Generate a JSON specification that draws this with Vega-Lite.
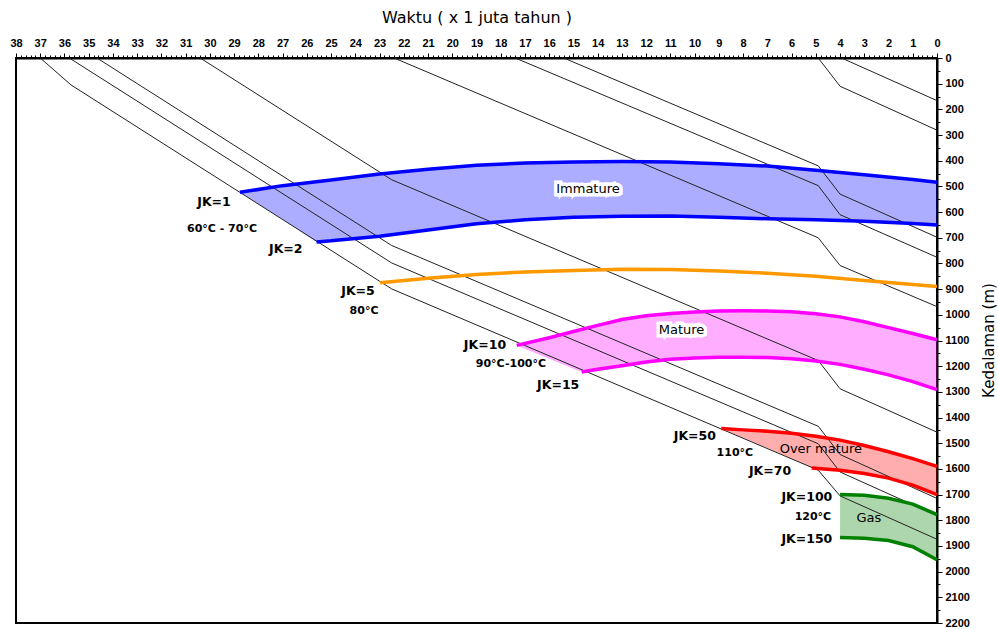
{
  "$schema": "https://vega.github.io/schema/vega-lite/v6.json",
  "width": 921,
  "height": 565,
  "autosize": {"type": "none"},
  "padding": {"left": 16, "top": 58, "right": 61, "bottom": 6},
  "background": "white",
  "config": {"view": {"stroke": "black", "strokeWidth": 2}, "axis": {"grid": false}},
  "datasets": {
    "bands": [
      {"band": "blue", "t": 28.76, "top": 523, "bot": 523},
      {"band": "blue", "t": 27, "top": 497, "bot": 629},
      {"band": "blue", "t": 25.6, "top": 482, "bot": 716},
      {"band": "blue", "t": 25, "top": 475, "bot": 712},
      {"band": "blue", "t": 23, "top": 452, "bot": 694},
      {"band": "blue", "t": 21, "top": 433, "bot": 670},
      {"band": "blue", "t": 19, "top": 418, "bot": 645},
      {"band": "blue", "t": 17, "top": 409, "bot": 630},
      {"band": "blue", "t": 15, "top": 405, "bot": 620},
      {"band": "blue", "t": 13, "top": 403, "bot": 616},
      {"band": "blue", "t": 11, "top": 405, "bot": 615},
      {"band": "blue", "t": 9, "top": 412, "bot": 620},
      {"band": "blue", "t": 7, "top": 421, "bot": 626},
      {"band": "blue", "t": 5, "top": 437, "bot": 630},
      {"band": "blue", "t": 3, "top": 455, "bot": 636},
      {"band": "blue", "t": 1, "top": 473, "bot": 644},
      {"band": "blue", "t": 0, "top": 484, "bot": 650},
      {"band": "magenta", "t": 17.34, "top": 1119, "bot": 1119},
      {"band": "magenta", "t": 16, "top": 1089, "bot": 1171},
      {"band": "magenta", "t": 15, "top": 1065, "bot": 1210},
      {"band": "magenta", "t": 14.66, "top": 1057, "bot": 1223},
      {"band": "magenta", "t": 14, "top": 1041, "bot": 1212},
      {"band": "magenta", "t": 13, "top": 1018, "bot": 1198},
      {"band": "magenta", "t": 12, "top": 1004, "bot": 1184},
      {"band": "magenta", "t": 11, "top": 995, "bot": 1173},
      {"band": "magenta", "t": 10, "top": 989, "bot": 1168},
      {"band": "magenta", "t": 9, "top": 985, "bot": 1165},
      {"band": "magenta", "t": 8, "top": 984, "bot": 1165},
      {"band": "magenta", "t": 7, "top": 985, "bot": 1166},
      {"band": "magenta", "t": 6, "top": 988, "bot": 1171},
      {"band": "magenta", "t": 5, "top": 996, "bot": 1180},
      {"band": "magenta", "t": 4, "top": 1008, "bot": 1193},
      {"band": "magenta", "t": 3, "top": 1027, "bot": 1212},
      {"band": "magenta", "t": 2, "top": 1050, "bot": 1234},
      {"band": "magenta", "t": 1, "top": 1073, "bot": 1260},
      {"band": "magenta", "t": 0, "top": 1097, "bot": 1291},
      {"band": "red", "t": 8.9, "top": 1443, "bot": 1443},
      {"band": "red", "t": 8, "top": 1448, "bot": 1479},
      {"band": "red", "t": 7, "top": 1453, "bot": 1519},
      {"band": "red", "t": 6, "top": 1461, "bot": 1559},
      {"band": "red", "t": 5.17, "top": 1471, "bot": 1596},
      {"band": "red", "t": 5, "top": 1473, "bot": 1597},
      {"band": "red", "t": 4, "top": 1488, "bot": 1605},
      {"band": "red", "t": 3, "top": 1509, "bot": 1618},
      {"band": "red", "t": 2, "top": 1533, "bot": 1636},
      {"band": "red", "t": 1, "top": 1560, "bot": 1663},
      {"band": "red", "t": 0, "top": 1590, "bot": 1700},
      {"band": "green", "t": 4, "top": 1700, "bot": 1867},
      {"band": "green", "t": 3, "top": 1703, "bot": 1870},
      {"band": "green", "t": 2, "top": 1714, "bot": 1879},
      {"band": "green", "t": 1, "top": 1737, "bot": 1903},
      {"band": "green", "t": 0, "top": 1778, "bot": 1954}
    ],
    "burial": [
      {"line": "A", "t": 37, "d": 0}, {"line": "A", "t": 35.73, "d": 105}, {"line": "A", "t": 22.5, "d": 899}, {"line": "A", "t": 4.9, "d": 1605}, {"line": "A", "t": 4.0, "d": 1705}, {"line": "A", "t": 0, "d": 1874},
      {"line": "B", "t": 35.8, "d": 0}, {"line": "B", "t": 22.5, "d": 798}, {"line": "B", "t": 4.9, "d": 1502}, {"line": "B", "t": 4.0, "d": 1612}, {"line": "B", "t": 0, "d": 1782},
      {"line": "C", "t": 34.66, "d": 0}, {"line": "C", "t": 22.5, "d": 730}, {"line": "C", "t": 4.9, "d": 1434}, {"line": "C", "t": 4.0, "d": 1544}, {"line": "C", "t": 0, "d": 1715},
      {"line": "D", "t": 30.4, "d": 0}, {"line": "D", "t": 22.5, "d": 474}, {"line": "D", "t": 4.9, "d": 1178}, {"line": "D", "t": 4.0, "d": 1288}, {"line": "D", "t": 0, "d": 1457},
      {"line": "E", "t": 22.4, "d": 0}, {"line": "E", "t": 4.9, "d": 700}, {"line": "E", "t": 4.0, "d": 808}, {"line": "E", "t": 0, "d": 968},
      {"line": "F", "t": 17.4, "d": 0}, {"line": "F", "t": 4.9, "d": 497}, {"line": "F", "t": 4.0, "d": 610}, {"line": "F", "t": 0, "d": 776},
      {"line": "G", "t": 15.4, "d": 0}, {"line": "G", "t": 4.9, "d": 420}, {"line": "G", "t": 4.0, "d": 530}, {"line": "G", "t": 0, "d": 698},
      {"line": "H", "t": 4.9, "d": 0}, {"line": "H", "t": 4.0, "d": 110}, {"line": "H", "t": 0, "d": 281},
      {"line": "I", "t": 3.94, "d": 0}, {"line": "I", "t": 0, "d": 166}
    ],
    "jklines": [
      {"jk": "1", "grp": "blue", "t": 28.76, "d": 523}, {"jk": "1", "grp": "blue", "t": 27, "d": 497}, {"jk": "1", "grp": "blue", "t": 25, "d": 475}, {"jk": "1", "grp": "blue", "t": 23, "d": 452}, {"jk": "1", "grp": "blue", "t": 21, "d": 433}, {"jk": "1", "grp": "blue", "t": 19, "d": 418}, {"jk": "1", "grp": "blue", "t": 17, "d": 409}, {"jk": "1", "grp": "blue", "t": 15, "d": 405}, {"jk": "1", "grp": "blue", "t": 13, "d": 403}, {"jk": "1", "grp": "blue", "t": 11, "d": 405}, {"jk": "1", "grp": "blue", "t": 9, "d": 412}, {"jk": "1", "grp": "blue", "t": 7, "d": 421}, {"jk": "1", "grp": "blue", "t": 5, "d": 437}, {"jk": "1", "grp": "blue", "t": 3, "d": 455}, {"jk": "1", "grp": "blue", "t": 1, "d": 473}, {"jk": "1", "grp": "blue", "t": 0, "d": 484},
      {"jk": "2", "grp": "blue", "t": 25.6, "d": 716}, {"jk": "2", "grp": "blue", "t": 25, "d": 712}, {"jk": "2", "grp": "blue", "t": 23, "d": 694}, {"jk": "2", "grp": "blue", "t": 21, "d": 670}, {"jk": "2", "grp": "blue", "t": 19, "d": 645}, {"jk": "2", "grp": "blue", "t": 17, "d": 630}, {"jk": "2", "grp": "blue", "t": 15, "d": 620}, {"jk": "2", "grp": "blue", "t": 13, "d": 616}, {"jk": "2", "grp": "blue", "t": 11, "d": 615}, {"jk": "2", "grp": "blue", "t": 9, "d": 620}, {"jk": "2", "grp": "blue", "t": 7, "d": 626}, {"jk": "2", "grp": "blue", "t": 5, "d": 630}, {"jk": "2", "grp": "blue", "t": 3, "d": 636}, {"jk": "2", "grp": "blue", "t": 1, "d": 644}, {"jk": "2", "grp": "blue", "t": 0, "d": 650},
      {"jk": "5", "grp": "orange", "t": 22.98, "d": 875}, {"jk": "5", "grp": "orange", "t": 21, "d": 858}, {"jk": "5", "grp": "orange", "t": 19, "d": 843}, {"jk": "5", "grp": "orange", "t": 17, "d": 833}, {"jk": "5", "grp": "orange", "t": 15, "d": 827}, {"jk": "5", "grp": "orange", "t": 13, "d": 823}, {"jk": "5", "grp": "orange", "t": 11, "d": 824}, {"jk": "5", "grp": "orange", "t": 9, "d": 829}, {"jk": "5", "grp": "orange", "t": 7, "d": 838}, {"jk": "5", "grp": "orange", "t": 5, "d": 850}, {"jk": "5", "grp": "orange", "t": 3, "d": 866}, {"jk": "5", "grp": "orange", "t": 1, "d": 882}, {"jk": "5", "grp": "orange", "t": 0, "d": 890},
      {"jk": "10", "grp": "magenta", "t": 17.34, "d": 1119}, {"jk": "10", "grp": "magenta", "t": 16, "d": 1089}, {"jk": "10", "grp": "magenta", "t": 15, "d": 1065}, {"jk": "10", "grp": "magenta", "t": 14, "d": 1041}, {"jk": "10", "grp": "magenta", "t": 13, "d": 1018}, {"jk": "10", "grp": "magenta", "t": 12, "d": 1004}, {"jk": "10", "grp": "magenta", "t": 11, "d": 995}, {"jk": "10", "grp": "magenta", "t": 10, "d": 989}, {"jk": "10", "grp": "magenta", "t": 9, "d": 985}, {"jk": "10", "grp": "magenta", "t": 8, "d": 984}, {"jk": "10", "grp": "magenta", "t": 7, "d": 985}, {"jk": "10", "grp": "magenta", "t": 6, "d": 988}, {"jk": "10", "grp": "magenta", "t": 5, "d": 996}, {"jk": "10", "grp": "magenta", "t": 4, "d": 1008}, {"jk": "10", "grp": "magenta", "t": 3, "d": 1027}, {"jk": "10", "grp": "magenta", "t": 2, "d": 1050}, {"jk": "10", "grp": "magenta", "t": 1, "d": 1073}, {"jk": "10", "grp": "magenta", "t": 0, "d": 1097},
      {"jk": "15", "grp": "magenta", "t": 14.66, "d": 1223}, {"jk": "15", "grp": "magenta", "t": 14, "d": 1212}, {"jk": "15", "grp": "magenta", "t": 13, "d": 1198}, {"jk": "15", "grp": "magenta", "t": 12, "d": 1184}, {"jk": "15", "grp": "magenta", "t": 11, "d": 1173}, {"jk": "15", "grp": "magenta", "t": 10, "d": 1168}, {"jk": "15", "grp": "magenta", "t": 9, "d": 1165}, {"jk": "15", "grp": "magenta", "t": 8, "d": 1165}, {"jk": "15", "grp": "magenta", "t": 7, "d": 1166}, {"jk": "15", "grp": "magenta", "t": 6, "d": 1171}, {"jk": "15", "grp": "magenta", "t": 5, "d": 1180}, {"jk": "15", "grp": "magenta", "t": 4, "d": 1193}, {"jk": "15", "grp": "magenta", "t": 3, "d": 1212}, {"jk": "15", "grp": "magenta", "t": 2, "d": 1234}, {"jk": "15", "grp": "magenta", "t": 1, "d": 1260}, {"jk": "15", "grp": "magenta", "t": 0, "d": 1291},
      {"jk": "50", "grp": "red", "t": 8.9, "d": 1443}, {"jk": "50", "grp": "red", "t": 8, "d": 1448}, {"jk": "50", "grp": "red", "t": 7, "d": 1453}, {"jk": "50", "grp": "red", "t": 6, "d": 1461}, {"jk": "50", "grp": "red", "t": 5, "d": 1473}, {"jk": "50", "grp": "red", "t": 4, "d": 1488}, {"jk": "50", "grp": "red", "t": 3, "d": 1509}, {"jk": "50", "grp": "red", "t": 2, "d": 1533}, {"jk": "50", "grp": "red", "t": 1, "d": 1560}, {"jk": "50", "grp": "red", "t": 0, "d": 1590},
      {"jk": "70", "grp": "red", "t": 5.17, "d": 1596}, {"jk": "70", "grp": "red", "t": 4, "d": 1605}, {"jk": "70", "grp": "red", "t": 3, "d": 1618}, {"jk": "70", "grp": "red", "t": 2, "d": 1636}, {"jk": "70", "grp": "red", "t": 1, "d": 1663}, {"jk": "70", "grp": "red", "t": 0, "d": 1700},
      {"jk": "100", "grp": "green", "t": 4, "d": 1700}, {"jk": "100", "grp": "green", "t": 3, "d": 1703}, {"jk": "100", "grp": "green", "t": 2, "d": 1714}, {"jk": "100", "grp": "green", "t": 1, "d": 1737}, {"jk": "100", "grp": "green", "t": 0, "d": 1778},
      {"jk": "150", "grp": "green", "t": 4, "d": 1867}, {"jk": "150", "grp": "green", "t": 3, "d": 1870}, {"jk": "150", "grp": "green", "t": 2, "d": 1879}, {"jk": "150", "grp": "green", "t": 1, "d": 1903}, {"jk": "150", "grp": "green", "t": 0, "d": 1954}
    ],
    "jklabels": [
      {"label": "JK=1", "t": 29.83, "d": 559},
      {"label": "JK=2", "t": 26.87, "d": 742},
      {"label": "JK=5", "t": 23.89, "d": 907},
      {"label": "JK=10", "t": 18.65, "d": 1118},
      {"label": "JK=15", "t": 15.63, "d": 1275},
      {"label": "JK=50", "t": 9.99, "d": 1470},
      {"label": "JK=70", "t": 6.89, "d": 1609},
      {"label": "JK=100", "t": 5.37, "d": 1708},
      {"label": "JK=150", "t": 5.37, "d": 1872}
    ],
    "templabels": [
      {"label": "60°C - 70°C", "t": 29.5, "d": 664},
      {"label": "80°C", "t": 23.64, "d": 985},
      {"label": "90°C-100°C", "t": 17.58, "d": 1190},
      {"label": "110°C", "t": 8.34, "d": 1537},
      {"label": "120°C", "t": 5.12, "d": 1786}
    ],
    "zones": [
      {"label": "Immature", "t": 14.4, "d": 511, "halo": 1},
      {"label": "Mature", "t": 10.54, "d": 1061, "halo": 1},
      {"label": "Over mature", "t": 4.79, "d": 1521, "halo": 0},
      {"label": "Gas", "t": 2.81, "d": 1790, "halo": 0}
    ]
  },
  "layer": [
    {
      "data": {"name": "bands"},
      "mark": {"type": "area", "fillOpacity": 0.32, "strokeWidth": 0},
      "encoding": {
        "x": {"field": "t", "type": "quantitative", "scale": {"domain": [0, 38], "reverse": true},
          "axis": {"orient": "top", "values": [0,1,2,3,4,5,6,7,8,9,10,11,12,13,14,15,16,17,18,19,20,21,22,23,24,25,26,27,28,29,30,31,32,33,34,35,36,37,38],
            "format": "d", "labelFont": "Liberation Sans", "labelFontWeight": "bold", "labelFontSize": 11, "labelColor": "black",
            "labelFlush": false, "labelOverlap": false, "labelPadding": 5, "tickColor": "black", "tickSize": 5, "tickWidth": 1,
            "domainColor": "black", "domainWidth": 2, "title": "Waktu ( x 1 juta tahun )", "titleFont": "DejaVu Sans",
            "titleFontSize": 16, "titleFontWeight": "normal", "titleColor": "black", "titleY": -41, "titleBaseline": "middle"}},
        "y": {"field": "top", "type": "quantitative", "scale": {"domain": [0, 2200], "reverse": true},
          "axis": {"orient": "right", "values": [0,100,200,300,400,500,600,700,800,900,1000,1100,1200,1300,1400,1500,1600,1700,1800,1900,2000,2100,2200],
            "format": "d", "labelFont": "Liberation Sans", "labelFontWeight": "bold", "labelFontSize": 11, "labelColor": "black",
            "labelFlush": false, "labelOverlap": false, "labelPadding": 3, "tickColor": "black", "tickSize": 5, "tickWidth": 1,
            "domainColor": "black", "domainWidth": 2, "title": "Kedalaman (m)", "titleFont": "DejaVu Sans", "titleFontSize": 15,
            "titleFontWeight": "normal", "titleColor": "black", "titleAngle": 270, "titleX": 51, "titleY": 282, "titleAlign": "center", "titleBaseline": "middle"}},
        "y2": {"field": "bot"},
        "color": {"field": "band", "type": "nominal", "scale": {"domain": ["blue", "magenta", "red", "green"], "range": ["#0000ff", "#ff00ff", "#ff0000", "#008000"]}, "legend": null}
      }
    },
    {
      "data": {"name": "burial"},
      "mark": {"type": "line", "strokeWidth": 1, "color": "#222222"},
      "encoding": {
        "x": {"field": "t", "type": "quantitative", "scale": {"domain": [0, 38], "reverse": true},
          "axis": {"orient": "top", "tickCount": 190, "labels": false, "domain": false, "tickColor": "black", "tickSize": 3, "tickWidth": 1, "title": null}},
        "y": {"field": "d", "type": "quantitative", "scale": {"domain": [0, 2200], "reverse": true},
          "axis": {"orient": "right", "tickCount": 44, "labels": false, "domain": false, "tickColor": "black", "tickSize": 3, "tickWidth": 1, "title": null}},
        "detail": {"field": "line"}
      }
    },
    {
      "data": {"name": "jklines"},
      "mark": {"type": "line", "strokeWidth": 3.5},
      "encoding": {
        "x": {"field": "t", "type": "quantitative", "scale": {"domain": [0, 38], "reverse": true}, "axis": null},
        "y": {"field": "d", "type": "quantitative", "scale": {"domain": [0, 2200], "reverse": true}, "axis": null},
        "detail": {"field": "jk"},
        "stroke": {"field": "grp", "type": "nominal", "scale": {"domain": ["blue", "magenta", "red", "green", "orange"], "range": ["#0000ff", "#ff00ff", "#ff0000", "#008000", "#ff9900"]}, "legend": null}
      }
    },
    {
      "data": {"name": "zones"},
      "transform": [{"filter": "datum.halo == 1"}],
      "mark": {"type": "text", "font": "DejaVu Sans", "fontSize": 13, "stroke": "white", "strokeWidth": 7, "fill": "white"},
      "encoding": {
        "x": {"field": "t", "type": "quantitative", "scale": {"domain": [0, 38], "reverse": true}, "axis": null},
        "y": {"field": "d", "type": "quantitative", "scale": {"domain": [0, 2200], "reverse": true}, "axis": null},
        "text": {"field": "label"}
      }
    },
    {
      "data": {"name": "zones"},
      "mark": {"type": "text", "font": "DejaVu Sans", "fontSize": 13, "color": "black"},
      "encoding": {
        "x": {"field": "t", "type": "quantitative", "scale": {"domain": [0, 38], "reverse": true}, "axis": null},
        "y": {"field": "d", "type": "quantitative", "scale": {"domain": [0, 2200], "reverse": true}, "axis": null},
        "text": {"field": "label"}
      }
    },
    {
      "data": {"name": "jklabels"},
      "mark": {"type": "text", "font": "DejaVu Sans", "fontSize": 12.5, "fontWeight": "bold", "color": "black"},
      "encoding": {
        "x": {"field": "t", "type": "quantitative", "scale": {"domain": [0, 38], "reverse": true}, "axis": null},
        "y": {"field": "d", "type": "quantitative", "scale": {"domain": [0, 2200], "reverse": true}, "axis": null},
        "text": {"field": "label"}
      }
    },
    {
      "data": {"name": "templabels"},
      "mark": {"type": "text", "font": "DejaVu Sans", "fontSize": 11, "fontWeight": "bold", "color": "black"},
      "encoding": {
        "x": {"field": "t", "type": "quantitative", "scale": {"domain": [0, 38], "reverse": true}, "axis": null},
        "y": {"field": "d", "type": "quantitative", "scale": {"domain": [0, 2200], "reverse": true}, "axis": null},
        "text": {"field": "label"}
      }
    }
  ],
  "resolve": {"axis": {"x": "independent", "y": "independent"}, "scale": {"stroke": "independent", "color": "independent"}}
}
